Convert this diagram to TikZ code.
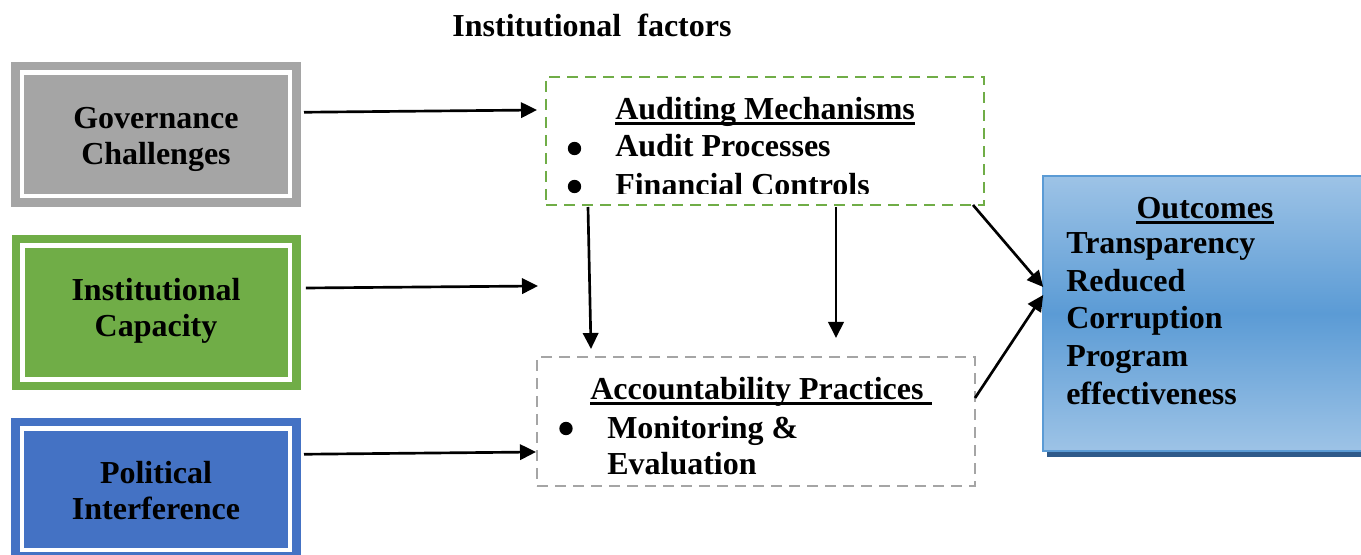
\documentclass[tikz,border=0pt]{standalone}
\usepackage{fontspec}
\setmainfont{Liberation Serif}
\usetikzlibrary{arrows.meta,calc}
\definecolor{cgray}{HTML}{A5A5A5}
\definecolor{cgreen}{HTML}{70AD47}
\definecolor{cblue}{HTML}{4472C4}
\definecolor{clight}{HTML}{9DC3E6}
\definecolor{cmid}{HTML}{5B9BD5}
\definecolor{cborder}{HTML}{5B9BD5}
\definecolor{cshadow}{HTML}{2F5A8A}
\begin{document}
\begin{tikzpicture}[x=0.75pt,y=-0.75pt,
  every node/.style={font=\fontsize{24}{27}\selectfont\bfseries},
  framebox/.style={draw=#1, fill=#1, double=white, double distance=3.4pt, line width=6.4pt, outer sep=0pt, inner sep=0pt},
  ftext/.style={inner sep=0pt, align=center},
  arr/.style={-{Triangle[length=12pt,width=11.5pt]}, line width=2pt},
  dbox/.style={draw=#1, line width=1.9pt, dash pattern=on 8.25pt off 5.25pt, outer sep=0pt, inner sep=0pt},
  txt/.style={inner sep=0pt, anchor=base west},
  bul/.style={circle, fill=black, inner sep=0pt, minimum size=10pt},
  uline/.style={line width=2.3pt}
]
\useasboundingbox (0,0) rectangle (1361,555);
\clip (0,0) rectangle (1361,555);

% title
\node[inner sep=0pt] (title) at (592,25) {Institutional~~factors};

% left boxes
\node[framebox=cgray, minimum width=201pt, minimum height=92.6pt] (gov) at (156,134.25) {};
\node[ftext] (govt) at (156,139.5) {Governance\\Challenges};
\node[framebox=cgreen, minimum width=200.6pt, minimum height=100.5pt] (inst) at (156.25,312.5) {};
\node[ftext] (instt) at (156,310.5) {Institutional\\Capacity};
\node[framebox=cblue, minimum width=201pt, minimum height=91.1pt] (pol) at (156,489.25) {};
\node[ftext] (polt) at (156,490.5) {Political\\Interference};

% auditing box
\node[dbox=cgreen, minimum width=328.5pt, minimum height=96pt] (aud) at (765,141) {};
\node[txt] (audt) at (615,120) {Auditing Mechanisms};
\draw[uline] ([yshift=-2.6pt]audt.base west) -- ([yshift=-2.6pt]audt.base east);
\node[bul] (b1) at (574.5,148.5) {};
\node[txt] (ap) at (615,157) {Audit Processes};
\begin{scope}
\clip (546,77) rectangle (984,193.5);
\node[bul] (b2) at (574.5,186.5) {};
\node[txt] (fc) at (615,196) {Financial Controls};
\end{scope}

% accountability box
\node[dbox=cgray, minimum width=328.5pt, minimum height=96.75pt] (acc) at (756,421.5) {};
\node[txt] (acct) at (590,400) {Accountability Practices};
\draw[uline] ([yshift=-2.6pt]acct.base west) -- ([yshift=-2.6pt,xshift=6pt]acct.base east);
\node[bul] (b3) at (566,428.5) {};
\node[txt] (me) at (607,439) {Monitoring \&};
\node[txt] (ev) at (607,475) {Evaluation};

% outcomes box
\fill[cshadow] (1047,181) rectangle (1380,457);
\node[draw=cborder, line width=1.5pt, top color=clight, bottom color=clight, middle color=cmid, minimum width=251pt, minimum height=206.25pt, outer sep=0pt, inner sep=0pt] (out) at (1210.5,313.5) {};
\node[inner sep=0pt, anchor=base] (outt) at (1205,219) {Outcomes};
\draw[uline] ([yshift=-2.6pt]outt.base west) -- ([yshift=-2.6pt]outt.base east);
\node[txt] (o1) at (1066,254) {Transparency};
\node[txt] (o2) at (1066,292) {Reduced};
\node[txt] (o3) at (1066,329) {Corruption};
\node[txt] (o4) at (1066,367) {Program};
\node[txt] (o5) at (1066,405) {effectiveness};

% free ends
\coordinate (iend) at (538,286);
\coordinate (dend) at (836,338);

% arrows
\draw[arr] ($(gov.east)+(14,-22)$) -- ($(aud.west)+(-9,-31)$);
\draw[arr] ($(inst.east)+(16,-24.5)$) -- (iend);
\draw[arr] ($(pol.east)+(14,-35)$) -- ($(acc.west)+(-1,30.5)$);
\draw[arr] ($(aud.south west)+(42,2)$) -- ($(acc.north west)+(54,-8)$);
\draw[arr] ($(aud.south west)+(290,2)$) -- (dend);
\draw[arr] ($(aud.south east)+(-11,0)$) -- ($(out.north west)+(0,111)$);
\draw[arr] ($(acc.east)+(0,-23.5)$) -- ($(out.north west)+(0,119)$);
\end{tikzpicture}
\end{document}
